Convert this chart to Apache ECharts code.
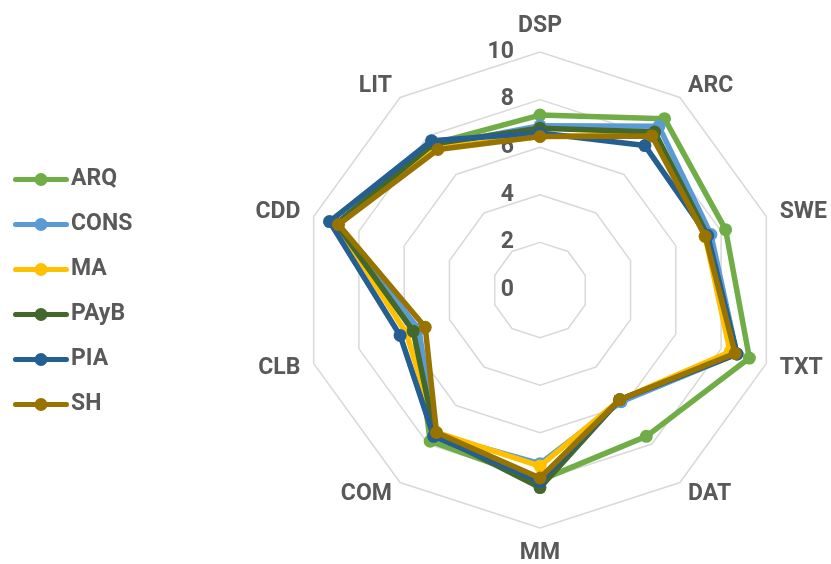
<!DOCTYPE html>
<html>
<head>
<meta charset="utf-8">
<script src="https://cdn.jsdelivr.net/npm/echarts@6/dist/echarts.min.js"></script>
<style>
html,body{margin:0;padding:0;background:#fff;}
#chart{width:831px;height:564px;}
</style>
</head>
<body>
<div id="chart"></div>
<script>
// Categories in clockwise order starting at top
var categories = ['DSP', 'ARC', 'SWE', 'TXT', 'DAT', 'MM', 'COM', 'CLB', 'CDD', 'LIT'];
var seriesNames = ['ARQ', 'CONS', 'MA', 'PAyB', 'PIA', 'SH'];
var ARQ  = [7.35, 8.9, 8.2, 9.25, 7.6, 8.0, 7.85, 5.5, 9.0, 7.6];
var CONS = [6.9, 8.5, 7.55, 8.7, 5.8, 7.3, 7.5, 5.35, 9.0, 7.5];
var MA   = [6.45, 8.1, 7.3, 8.4, 5.7, 7.4, 7.4, 5.9, 9.0, 7.4];
var PAyB = [6.8, 8.2, 7.4, 8.7, 5.7, 8.3, 7.5, 5.6, 9.0, 7.6];
var PIA  = [6.6, 7.5, 7.4, 8.7, 5.7, 8.05, 7.6, 6.18, 9.3, 7.75];
var SH   = [6.45, 8.0, 7.3, 8.62, 5.7, 7.9, 7.4, 5.07, 8.9, 7.3];
var tickLabels = ['0', '2', '4', '6', '8', '10'];
var axisMax = 10;

var seriesValues = [ARQ, CONS, MA, PAyB, PIA, SH];
var colors = ['#70AD47', '#5B9BD5', '#FFC000', '#43682B', '#255E91', '#997300'];

// ECharts radar runs counter-clockwise; reorder so it appears clockwise
function toCCW(arr) {
  var out = [arr[0]];
  for (var i = arr.length - 1; i >= 1; i--) out.push(arr[i]);
  return out;
}

var textColor = '#595959';
var fontSize = 23;
var indicators = toCCW(categories).map(function (c, i) {
  var ind = { name: c, max: axisMax, min: 0 };
  if (i === 0) {
    ind.axisLabel = {
      show: true,
      color: textColor,
      fontSize: fontSize,
      fontWeight: 'bold',
      fontFamily: 'Roboto',
      margin: 26,
      formatter: function (v) { return tickLabels[Math.round(v / 2)]; }
    };
  }
  return ind;
});

// legend icon: line with a circle marker
var legendIcon = 'path://M2.5,4.5 L53.5,4.5 A2.5,2.5 0 0,1 53.5,9.5 L2.5,9.5 A2.5,2.5 0 0,1 2.5,4.5 Z M21.5,7 A6.5,6.5 0 1,1 34.5,7 A6.5,6.5 0 1,1 21.5,7 Z';

var chart = echarts.init(document.getElementById('chart'), null, { renderer: 'canvas' });
chart.setOption({
  animation: false,
  backgroundColor: '#fff',
  color: colors,
  legend: {
    orient: 'vertical',
    left: 8,
    top: 163,
    itemWidth: 56,
    itemHeight: 14,
    itemGap: 22,
    icon: legendIcon,
    data: seriesNames,
    textStyle: { color: textColor, fontSize: fontSize, fontWeight: 'bold', fontFamily: 'Roboto', padding: [0, 0, 0, -3] }
  },
  radar: {
    center: [540, 290],
    radius: 238,
    startAngle: 90,
    splitNumber: 5,
    shape: 'polygon',
    indicator: indicators,
    axisName: { color: textColor, fontSize: fontSize, fontWeight: 'bold', fontFamily: 'Roboto' },
    nameGap: 14,
    axisLine: { show: false },
    axisTick: { show: false },
    axisLabel: { show: false },
    splitLine: { lineStyle: { color: '#D9D9D9', width: 1.5 } },
    splitArea: { show: false }
  },
  series: seriesNames.map(function (name, i) {
    return {
      type: 'radar',
      name: name,
      symbol: 'circle',
      symbolSize: 13,
      lineStyle: { width: 5.5, color: colors[i] },
      itemStyle: { color: colors[i] },
      data: [{ name: name, value: toCCW(seriesValues[i]) }],
      z: 2 + i
    };
  })
});
</script>
</body>
</html>
